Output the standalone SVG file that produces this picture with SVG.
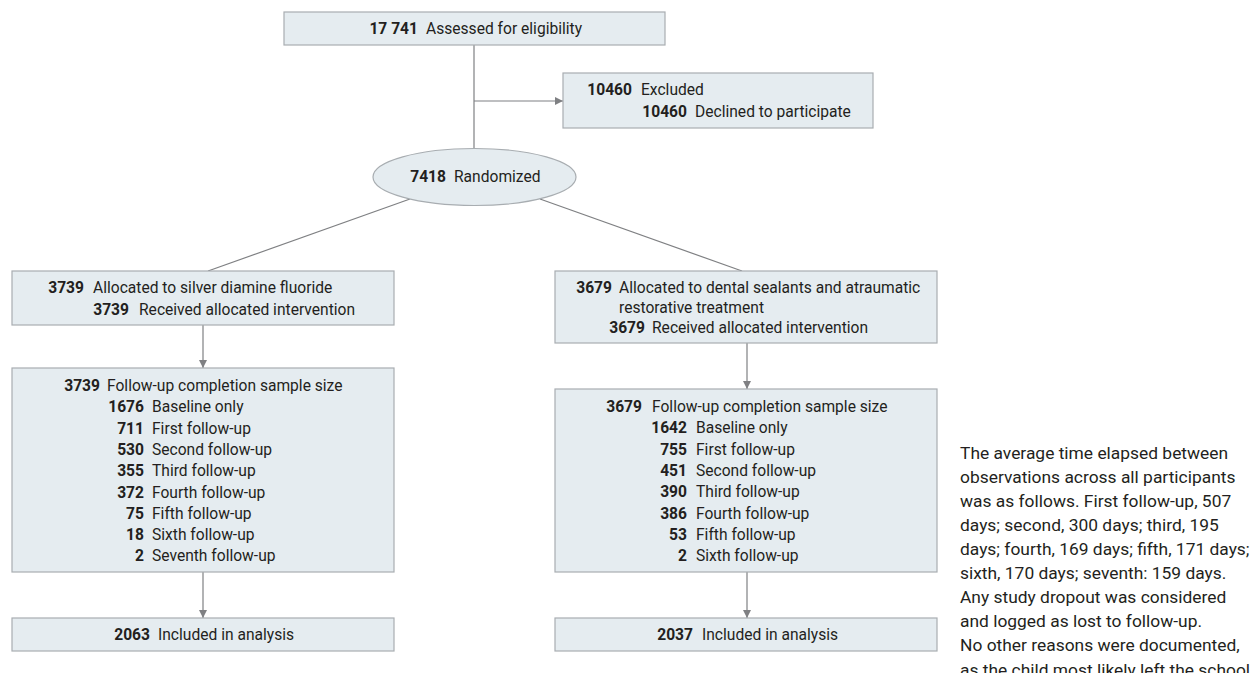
<svg xmlns="http://www.w3.org/2000/svg" width="1260" height="673" viewBox="0 0 1260 673">
<style>
.box{fill:#e5ecf0;stroke:#a8adb1;stroke-width:1.2}
.t{font-family:Roboto,"Liberation Sans",sans-serif;font-size:15.6px;fill:#231f20}
.n{font-weight:bold;text-anchor:end}
.c{stroke:#7f8083;stroke-width:1.2;fill:none}
.note{font-family:Roboto,"Liberation Sans",sans-serif;font-size:17.4px;fill:#231f20}
</style>
<defs>
<marker id="ah" markerWidth="8" markerHeight="8" refX="8" refY="4" orient="auto" markerUnits="userSpaceOnUse">
<path d="M0,0 L8,4 L0,8 Z" fill="#7f8083"/>
</marker>
</defs>
<rect width="1260" height="673" fill="#ffffff"/>
<g id="connectors">
<line class="c" x1="474" y1="45" x2="474" y2="148"/>
<line class="c" x1="474" y1="101" x2="563" y2="101" marker-end="url(#ah)"/>
<line class="c" x1="410" y1="199" x2="208" y2="271"/>
<line class="c" x1="540" y1="199" x2="742" y2="271"/>
<line class="c" x1="203" y1="325" x2="203" y2="368" marker-end="url(#ah)"/>
<line class="c" x1="203" y1="572" x2="203" y2="618" marker-end="url(#ah)"/>
<line class="c" x1="747" y1="343" x2="747" y2="389" marker-end="url(#ah)"/>
<line class="c" x1="747" y1="572" x2="747" y2="618" marker-end="url(#ah)"/>
</g>
<g id="assessed">
<rect class="box" x="284" y="12" width="381" height="33"/>
<text class="t n" x="418" y="34">17 741</text>
<text class="t" x="426" y="34">Assessed for eligibility</text>
</g>
<g id="excluded">
<rect class="box" x="563" y="73" width="310" height="55"/>
<text class="t n" x="632" y="95">10460</text>
<text class="t" x="641" y="95">Excluded</text>
<text class="t n" x="687" y="117">10460</text>
<text class="t" x="695" y="117">Declined to participate</text>
</g>
<g id="randomized">
<ellipse class="box" cx="474.5" cy="177" rx="101.5" ry="28.5"/>
<text class="t n" x="446" y="182">7418</text>
<text class="t" x="454" y="182">Randomized</text>
</g>
<g id="sdf-allocated">
<rect class="box" x="12" y="271" width="382" height="54"/>
<text class="t n" x="84" y="293">3739</text>
<text class="t" x="93" y="293">Allocated to silver diamine fluoride</text>
<text class="t n" x="129" y="315">3739</text>
<text class="t" x="139" y="315">Received allocated intervention</text>
</g>
<g id="sdf-followup">
<rect class="box" x="12" y="368" width="382" height="204"/>
<text class="t n" x="100" y="391">3739</text>
<text class="t" x="107" y="391">Follow-up completion sample size</text>
<text class="t n" x="144" y="412.3">1676</text>
<text class="t" x="152" y="412.3">Baseline only</text>
<text class="t n" x="144" y="433.6">711</text>
<text class="t" x="152" y="433.6">First follow-up</text>
<text class="t n" x="144" y="454.9">530</text>
<text class="t" x="152" y="454.9">Second follow-up</text>
<text class="t n" x="144" y="476.2">355</text>
<text class="t" x="152" y="476.2">Third follow-up</text>
<text class="t n" x="144" y="497.5">372</text>
<text class="t" x="152" y="497.5">Fourth follow-up</text>
<text class="t n" x="144" y="518.8">75</text>
<text class="t" x="152" y="518.8">Fifth follow-up</text>
<text class="t n" x="144" y="540.1">18</text>
<text class="t" x="152" y="540.1">Sixth follow-up</text>
<text class="t n" x="144" y="561.4">2</text>
<text class="t" x="152" y="561.4">Seventh follow-up</text>
</g>
<g id="sdf-analysis">
<rect class="box" x="12" y="618" width="382" height="33"/>
<text class="t n" x="150" y="640">2063</text>
<text class="t" x="158" y="640">Included in analysis</text>
</g>
<g id="dsart-allocated">
<rect class="box" x="555" y="271" width="382" height="72"/>
<text class="t n" x="612" y="293">3679</text>
<text class="t" x="619" y="293">Allocated to dental sealants and atraumatic</text>
<text class="t" x="619" y="313">restorative treatment</text>
<text class="t n" x="645" y="333">3679</text>
<text class="t" x="652" y="333">Received allocated intervention</text>
</g>
<g id="dsart-followup">
<rect class="box" x="555" y="389" width="382" height="183"/>
<text class="t n" x="642" y="412">3679</text>
<text class="t" x="652" y="412">Follow-up completion sample size</text>
<text class="t n" x="687" y="433.3">1642</text>
<text class="t" x="696" y="433.3">Baseline only</text>
<text class="t n" x="687" y="454.6">755</text>
<text class="t" x="696" y="454.6">First follow-up</text>
<text class="t n" x="687" y="475.9">451</text>
<text class="t" x="696" y="475.9">Second follow-up</text>
<text class="t n" x="687" y="497.2">390</text>
<text class="t" x="696" y="497.2">Third follow-up</text>
<text class="t n" x="687" y="518.5">386</text>
<text class="t" x="696" y="518.5">Fourth follow-up</text>
<text class="t n" x="687" y="539.8">53</text>
<text class="t" x="696" y="539.8">Fifth follow-up</text>
<text class="t n" x="687" y="561.1">2</text>
<text class="t" x="696" y="561.1">Sixth follow-up</text>
</g>
<g id="dsart-analysis">
<rect class="box" x="555" y="618" width="382" height="33"/>
<text class="t n" x="693" y="640">2037</text>
<text class="t" x="702" y="640">Included in analysis</text>
</g>
<g id="note">
<text class="note" x="960" y="459">The average time elapsed between</text>
<text class="note" x="960" y="483">observations across all participants</text>
<text class="note" x="960" y="507">was as follows. First follow-up, 507</text>
<text class="note" x="960" y="531">days; second, 300 days; third, 195</text>
<text class="note" x="960" y="555">days; fourth, 169 days; fifth, 171 days;</text>
<text class="note" x="960" y="579">sixth, 170 days; seventh: 159 days.</text>
<text class="note" x="960" y="603">Any study dropout was considered</text>
<text class="note" x="960" y="627">and logged as lost to follow-up.</text>
<text class="note" x="960" y="651">No other reasons were documented,</text>
<text class="note" x="960" y="676">as the child most likely left the school</text>
</g>
</svg>
